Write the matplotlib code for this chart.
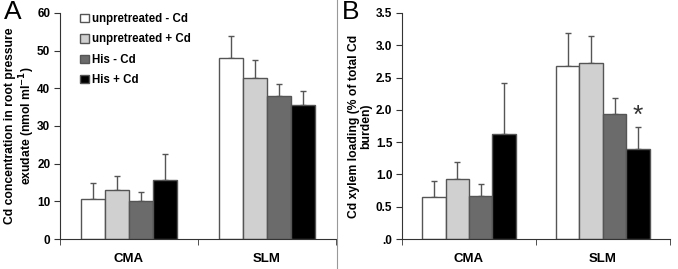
import numpy as np
import matplotlib
matplotlib.use('Agg')
import matplotlib.pyplot as plt
from matplotlib.lines import Line2D

plt.rcParams['font.family'] = ['Liberation Sans', 'DejaVu Sans']

groups = ['CMA', 'SLM']
series = ['unpretreated - Cd', 'unpretreated + Cd', 'His - Cd', 'His + Cd']
colors = ['#ffffff', '#d0d0d0', '#6b6b6b', '#000000']

# panel A: Cd concentration (nmol ml-1), rows = series, cols = groups
conc = [[10.5, 48.0], [13.0, 42.7], [10.0, 37.9], [15.6, 35.5]]
conc_err = [[4.5, 5.8], [3.7, 4.8], [2.5, 3.2], [7.0, 3.9]]

# panel B: Cd xylem loading (% of total Cd burden)
load = [[0.65, 2.68], [0.93, 2.72], [0.66, 1.93], [1.62, 1.40]]
load_err = [[0.25, 0.51], [0.27, 0.42], [0.19, 0.25], [0.80, 0.33]]

fig = plt.figure(figsize=(6.78, 2.69), dpi=100)
axA = fig.add_axes([0.0885, 0.1115, 0.407, 0.8402])
axB = fig.add_axes([0.593, 0.1115, 0.395, 0.8402])

x = np.arange(len(groups)) + 0.5
w = 0.175
offs = [-1.5 * w, -0.5 * w, 0.5 * w, 1.5 * w]


def draw(ax, vals, errs):
    bars = []
    for i in range(4):
        b = ax.bar(x + offs[i], vals[i], w, color=colors[i], edgecolor='#555555',
                   linewidth=1.0, zorder=2)
        ax.errorbar(x + offs[i], vals[i], yerr=[np.zeros(2), errs[i]], fmt='none',
                    ecolor='#555555', elinewidth=1.0, capsize=2, capthick=1.0, zorder=1)
        bars.append(b)
    ax.set_xlim(0, 2)
    ax.set_xticks(x)
    ax.set_xticklabels(groups, fontsize=9.5, fontweight='bold')
    ax.tick_params(axis='x', which='major', length=0, pad=10)
    ax.set_xticks([0, 1, 2], minor=True)
    ax.tick_params(axis='x', which='minor', length=4, direction='out', color='#333333')
    ax.tick_params(axis='y', length=4, direction='out', labelsize=8.5, color='#333333',
                   pad=3)
    for s in ['top', 'right']:
        ax.spines[s].set_visible(False)
    for s in ['left', 'bottom']:
        ax.spines[s].set_color('#333333')
    return bars


barsA = draw(axA, conc, conc_err)
axA.set_ylim(0, 60)
axA.set_yticks(range(0, 61, 10))
axA.set_yticklabels([str(v) for v in range(0, 61, 10)], fontweight='bold', fontsize=8.5)
axA.set_ylabel('Cd concentration in root pressure\nexudate (nmol ml$^{\\mathbf{-1}}$)',
               fontsize=8.7, fontweight='bold', linespacing=1.1)
axA.yaxis.set_label_coords(-0.085, 0.5)
axA.legend([b[0] for b in barsA], series, loc='upper left', bbox_to_anchor=(0.035, 1.045),
           frameon=False, prop={'weight': 'bold', 'size': 8.3}, handlelength=0.75,
           handleheight=0.75, handletextpad=0.25, labelspacing=0.72)

draw(axB, load, load_err)
axB.set_ylim(0, 3.5)
axB.set_yticks(np.arange(0, 3.51, 0.5))
axB.set_yticklabels(['.0', '0.5', '1.0', '1.5', '2.0', '2.5', '3.0', '3.5'],
                    fontweight='bold', fontsize=8.5)
axB.set_ylabel('Cd xylem loading (% of total Cd\nburden)', fontsize=8.7,
               fontweight='bold', linespacing=1.1)
axB.yaxis.set_label_coords(-0.11, 0.5)
axB.text(x[1] + offs[3], 1.9, '*', ha='center', va='center', fontsize=19,
         color='#333333')

fig.text(0.006, 1.0, 'A', fontsize=19, va='top', ha='left')
fig.text(0.504, 1.0, 'B', fontsize=19, va='top', ha='left')
fig.add_artist(Line2D([0.497, 0.497], [0, 1], color='#999999', linewidth=0.8))

fig.savefig('out.png', dpi=100)
